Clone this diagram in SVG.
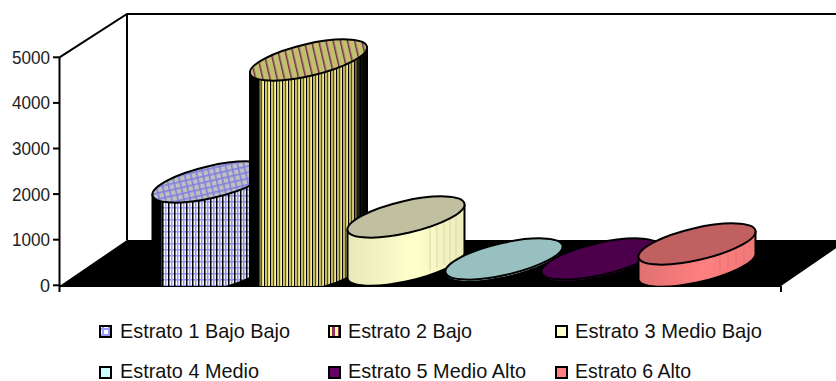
<svg xmlns="http://www.w3.org/2000/svg" width="836" height="381" viewBox="0 0 836 381">
<style>
.ax{stroke:#000;stroke-width:2;fill:none}
.ol{stroke:#000;stroke-width:2;stroke-linejoin:round}
.tk{font-family:"Liberation Sans",Arial,sans-serif;font-size:18px;fill:#222;text-anchor:end}
.lg{font-family:"Liberation Sans",Arial,sans-serif;font-size:21px;fill:#111}
.sq{stroke:#000;stroke-width:2}
</style>
<defs>
<clipPath id="plotClip"><rect x="0" y="0" width="836" height="286"/></clipPath>
<pattern id="gridBody" patternUnits="userSpaceOnUse" width="6" height="6">
<rect width="6" height="6" fill="#ffffff"/>
<rect x="3" width="1.5" height="6" fill="#9999ff"/>
<rect y="3" width="6" height="1.5" fill="#9999ff"/>
<rect x="0" width="1.5" height="6" fill="#000"/>
</pattern>
<pattern id="gridTop" patternUnits="userSpaceOnUse" width="6" height="6">
<rect width="6" height="6" fill="#c0c0c0"/>
<rect width="1.6" height="6" fill="#8080e0"/>
<rect width="6" height="1.6" fill="#8080e0"/>
</pattern>
<pattern id="gridLegend" patternUnits="userSpaceOnUse" width="6" height="6" x="100" y="326">
<rect width="6" height="6" fill="#ffffff"/>
<rect x="2" width="2" height="6" fill="#9999ff"/>
<rect y="2" width="6" height="2" fill="#9999ff"/>
</pattern>
<pattern id="stripeBody" patternUnits="userSpaceOnUse" width="6" height="6">
<rect width="6" height="6" fill="#ffff80"/>
<rect x="0" width="1.2" height="6" fill="#000"/>
<rect x="1.2" width="1.8" height="6" fill="#c8c870"/>
<rect x="3" width="1.2" height="6" fill="#993366"/>
</pattern>
<pattern id="stripeTop" patternUnits="userSpaceOnUse" width="7" height="7">
<rect width="7" height="7" fill="#c0c070"/>
<rect width="1.5" height="7" fill="#7a2a50"/>
</pattern>
<pattern id="stripeLegend" patternUnits="userSpaceOnUse" width="6" height="6" x="329" y="326">
<rect width="6" height="6" fill="#ffff99"/>
<rect x="3" width="3" height="6" fill="#993366"/>
</pattern>
<linearGradient id="darkEdges" x1="0" y1="0" x2="1" y2="0">
<stop offset="0" stop-color="#000" stop-opacity="1"/>
<stop offset="0.07" stop-color="#000" stop-opacity="1"/>
<stop offset="0.1" stop-color="#000" stop-opacity="0"/>
<stop offset="0.88" stop-color="#000" stop-opacity="0.1"/>
<stop offset="0.93" stop-color="#000" stop-opacity="0.9"/>
<stop offset="1" stop-color="#000" stop-opacity="1"/>
</linearGradient>
<linearGradient id="yellowBody" x1="0" y1="0" x2="1" y2="0">
<stop offset="0" stop-color="#e8e8b8"/>
<stop offset="0.55" stop-color="#ffffcc"/>
<stop offset="1" stop-color="#ececbc"/>
</linearGradient>
<linearGradient id="redBody" x1="0" y1="0" x2="1" y2="0">
<stop offset="0" stop-color="#e07070"/>
<stop offset="0.55" stop-color="#ff8080"/>
<stop offset="1" stop-color="#f07878"/>
</linearGradient>
</defs>
<rect width="836" height="381" fill="#ffffff"/>

<g id="walls">
<polygon points="59.5,286 127,240 848,240 781,286" fill="#000"/>
<polyline class="ax" points="59.5,57.3 127,14 836,14"/>
<line class="ax" x1="127" y1="14" x2="127" y2="240"/>
<line class="ax" x1="59.5" y1="57.3" x2="59.5" y2="292"/>
<line class="ax" x1="59.5" y1="286" x2="781" y2="286"/>
<line class="ax" x1="781" y1="286" x2="781" y2="292"/>
<g class="ax">
<line x1="53" y1="57.3" x2="59.5" y2="57.3"/>
<line x1="53" y1="102.9" x2="59.5" y2="102.9"/>
<line x1="53" y1="148.5" x2="59.5" y2="148.5"/>
<line x1="53" y1="194.1" x2="59.5" y2="194.1"/>
<line x1="53" y1="239.7" x2="59.5" y2="239.7"/>
<line x1="53" y1="285.3" x2="59.5" y2="285.3"/>
</g>
<text class="tk" x="50" y="63.8" textLength="38" lengthAdjust="spacingAndGlyphs">5000</text>
<text class="tk" x="50" y="109.4" textLength="38" lengthAdjust="spacingAndGlyphs">4000</text>
<text class="tk" x="50" y="155" textLength="38" lengthAdjust="spacingAndGlyphs">3000</text>
<text class="tk" x="50" y="200.6" textLength="38" lengthAdjust="spacingAndGlyphs">2000</text>
<text class="tk" x="50" y="246.2" textLength="38" lengthAdjust="spacingAndGlyphs">1000</text>
<text class="tk" x="50" y="291.8">0</text>
</g>

<g clip-path="url(#plotClip)">
<g id="serie-1">
<path class="ol" fill="url(#gridBody)" d="M152.5,194.5 L152.5,287.5 A60,16,-13,0,0,269.5,262.5 L269.5,169.5 A60,16,-13,0,1,152.5,194.5 Z"/>
<path fill="url(#darkEdges)" d="M152.5,194.5 L152.5,287.5 A60,16,-13,0,0,269.5,262.5 L269.5,169.5 A60,16,-13,0,1,152.5,194.5 Z"/>
<ellipse class="ol" cx="211" cy="182" rx="60" ry="16" transform="rotate(-13 211 182)" fill="url(#gridTop)"/>
</g>
<g id="serie-2">
<path class="ol" fill="url(#stripeBody)" d="M250,72.5 L250,287.5 A60,16,-13,0,0,367,262.5 L367,47.5 A60,16,-13,0,1,250,72.5 Z"/>
<path fill="url(#darkEdges)" d="M250,72.5 L250,287.5 A60,16,-13,0,0,367,262.5 L367,47.5 A60,16,-13,0,1,250,72.5 Z"/>
<path fill="none" class="ol" d="M250,72.5 L250,287.5 M367,262.5 L367,47.5"/>
<ellipse class="ol" cx="308.5" cy="60" rx="60" ry="16" transform="rotate(-13 308.5 60)" fill="url(#stripeTop)"/>
</g>
<g id="serie-3">
<path class="ol" fill="url(#yellowBody)" d="M347.5,229.5 L347.5,278.5 A60,16,-13,0,0,464.5,253.5 L464.5,204.5 A60,16,-13,0,1,347.5,229.5 Z"/>
<g stroke="#d8d8a8" stroke-width="1">
<line x1="430" y1="224" x2="430" y2="271"/><line x1="437" y1="221" x2="437" y2="268"/><line x1="444" y1="218" x2="444" y2="265"/><line x1="450" y1="215" x2="450" y2="262"/><line x1="456" y1="212" x2="456" y2="259"/>
</g>
<ellipse class="ol" cx="406" cy="217" rx="60" ry="16" transform="rotate(-13 406 217)" fill="#c0c0a0"/>
</g>
<g id="serie-4">
<path class="ol" fill="#ccffff" d="M445.5,271.5 L445.5,274.5 A60,16,-13,0,0,562.5,249.5 L562.5,246.5 A60,16,-13,0,1,445.5,271.5 Z"/>
<ellipse class="ol" cx="504" cy="259" rx="60" ry="16" transform="rotate(-13 504 259)" fill="#99c0c0"/>
</g>
<g id="serie-5">
<path class="ol" fill="#660066" d="M541.5,271.5 L541.5,274.5 A60,16,-13,0,0,658.5,249.5 L658.5,246.5 A60,16,-13,0,1,541.5,271.5 Z"/>
<ellipse class="ol" cx="600" cy="259" rx="60" ry="16" transform="rotate(-13 600 259)" fill="#4c004c"/>
</g>
<g id="serie-6">
<path class="ol" fill="url(#redBody)" d="M638.5,256.5 L638.5,279.5 A60,16,-13,0,0,755.5,254.5 L755.5,231.5 A60,16,-13,0,1,638.5,256.5 Z"/>
<g stroke="#e87070" stroke-width="1">
<line x1="720" y1="248" x2="720" y2="271"/><line x1="728" y1="246" x2="728" y2="268"/><line x1="736" y1="243" x2="736" y2="265"/><line x1="744" y1="240" x2="744" y2="262"/>
</g>
<ellipse class="ol" cx="697" cy="244" rx="60" ry="16" transform="rotate(-13 697 244)" fill="#c06060"/>
</g>
</g>

<g id="legend">
<g id="legend-1"><rect class="sq" x="100" y="326" width="11" height="11" fill="url(#gridLegend)"/><text class="lg" x="120" y="338" textLength="170" lengthAdjust="spacingAndGlyphs">Estrato 1 Bajo Bajo</text></g>
<g id="legend-2"><rect class="sq" x="329" y="326" width="11" height="11" fill="url(#stripeLegend)"/><text class="lg" x="348" y="338" textLength="124" lengthAdjust="spacingAndGlyphs">Estrato 2 Bajo</text></g>
<g id="legend-3"><rect class="sq" x="556" y="326" width="11" height="11" fill="#ffffcc"/><text class="lg" x="575" y="338" textLength="187" lengthAdjust="spacingAndGlyphs">Estrato 3 Medio Bajo</text></g>
<g id="legend-4"><rect class="sq" x="100" y="367" width="11" height="11" fill="#ccffff"/><text class="lg" x="120" y="378" textLength="139" lengthAdjust="spacingAndGlyphs">Estrato 4 Medio</text></g>
<g id="legend-5"><rect class="sq" x="329" y="367" width="11" height="11" fill="#660066"/><text class="lg" x="348" y="378" textLength="178" lengthAdjust="spacingAndGlyphs">Estrato 5 Medio Alto</text></g>
<g id="legend-6"><rect class="sq" x="556" y="367" width="11" height="11" fill="#ff8080"/><text class="lg" x="575" y="378" textLength="116" lengthAdjust="spacingAndGlyphs">Estrato 6 Alto</text></g>
</g>
</svg>
